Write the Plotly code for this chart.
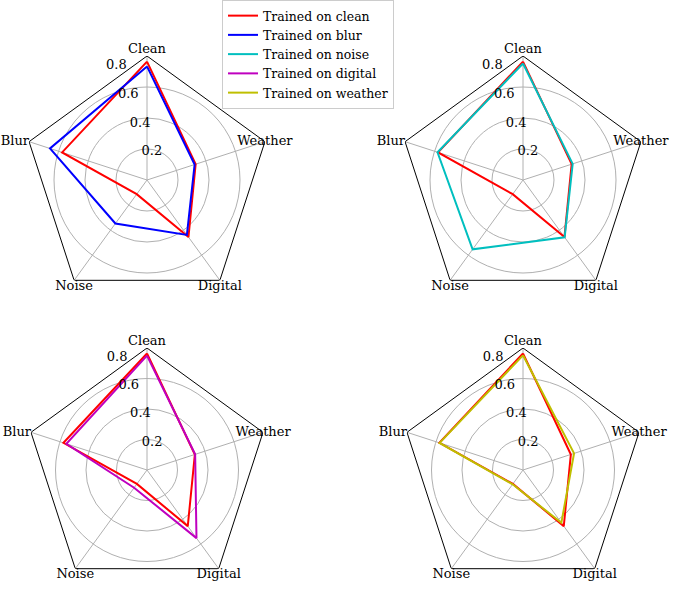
import plotly.graph_objects as go

categories = ["Clean", "Blur", "Noise", "Digital", "Weather"]
trained_clean = [0.764, 0.576, 0.113, 0.455, 0.330]
trained_blur = [0.733, 0.658, 0.347, 0.438, 0.323]
trained_noise = [0.752, 0.580, 0.553, 0.457, 0.337]
trained_digital = [0.750, 0.556, 0.144, 0.552, 0.332]
trained_weather = [0.752, 0.575, 0.116, 0.428, 0.352]
frame_value = 0.8
radial_ticks = [0.2, 0.4, 0.6, 0.8]
label_positions = ["top center", "middle left", "bottom center", "bottom center", "middle center"]

series = [
    ("Trained on blur", trained_blur, "#0000ff"),
    ("Trained on noise", trained_noise, "#00bfbf"),
    ("Trained on digital", trained_digital, "#bf00bf"),
    ("Trained on weather", trained_weather, "#bfbf00"),
]

W, H = 685, 592
# (center_x, center_y from top, radius) in px for each subplot
geo = [(147, 180, 124), (523, 180, 124), (147, 470, 122), (523, 470, 122)]
RADIAL_ANGLE = 112.5

FONT = "DejaVu Serif"
GRID = "#b0b0b0"

fig = go.Figure()

def closed(v):
    return list(v) + [v[0]]

theta = closed(categories)

for i, (name, vals, color) in enumerate(series):
    pid = "polar" if i == 0 else f"polar{i+1}"
    # pentagon frame
    fig.add_trace(go.Scatterpolar(r=[frame_value] * 6, theta=theta, mode="lines",
                                  line=dict(color="black", width=1), showlegend=False,
                                  hoverinfo="skip", subplot=pid))
    # category labels at the frame vertices
    fig.add_trace(go.Scatterpolar(r=[frame_value] * 5, theta=categories, mode="text",
                                  text=categories, textposition=label_positions,
                                  textfont=dict(family=FONT, size=13, color="black"),
                                  cliponaxis=False, showlegend=False, hoverinfo="skip",
                                  subplot=pid))
    fig.add_trace(go.Scatterpolar(r=closed(trained_clean), theta=theta, mode="lines",
                                  line=dict(color="#ff0000", width=2), name="Trained on clean",
                                  showlegend=(i == 0), subplot=pid))
    fig.add_trace(go.Scatterpolar(r=closed(vals), theta=theta, mode="lines",
                                  line=dict(color=color, width=2), name=name,
                                  showlegend=True, subplot=pid))

layout = {}
for i, (cx, cy, R) in enumerate(geo):
    pid = "polar" if i == 0 else f"polar{i+1}"
    x0, x1 = (cx - R) / W, (cx + R) / W
    y0, y1 = (H - cy - R) / H, (H - cy + R) / H
    layout[pid] = dict(
        domain=dict(x=[max(0, x0), min(1, x1)], y=[max(0, y0), min(1, y1)]),
        bgcolor="white",
        radialaxis=dict(range=[0, frame_value], tickvals=radial_ticks,
                        ticktext=[f"{t:.1f}" for t in radial_ticks],
                        showline=False, ticks="", angle=RADIAL_ANGLE, tickangle=RADIAL_ANGLE,
                        side="clockwise", gridcolor=GRID, gridwidth=1,
                        tickfont=dict(family=FONT, size=13, color="black")),
        angularaxis=dict(categoryorder="array", categoryarray=categories,
                         direction="counterclockwise", rotation=90,
                         showline=False, ticks="", showticklabels=False,
                         gridcolor=GRID, gridwidth=1),
    )

fig.update_layout(
    width=W, height=H,
    margin=dict(l=0, r=0, t=0, b=0),
    paper_bgcolor="white",
    font=dict(family=FONT, size=13, color="black"),
    legend=dict(x=222 / W, y=1, xanchor="left", yanchor="top",
                bgcolor="white", bordercolor="#cccccc", borderwidth=1,
                font=dict(family=FONT, size=12.5), tracegroupgap=0),
    **layout,
)

fig.write_html("out.html", config={"displayModeBar": False},
               post_script="document.body.style.margin='0';")
